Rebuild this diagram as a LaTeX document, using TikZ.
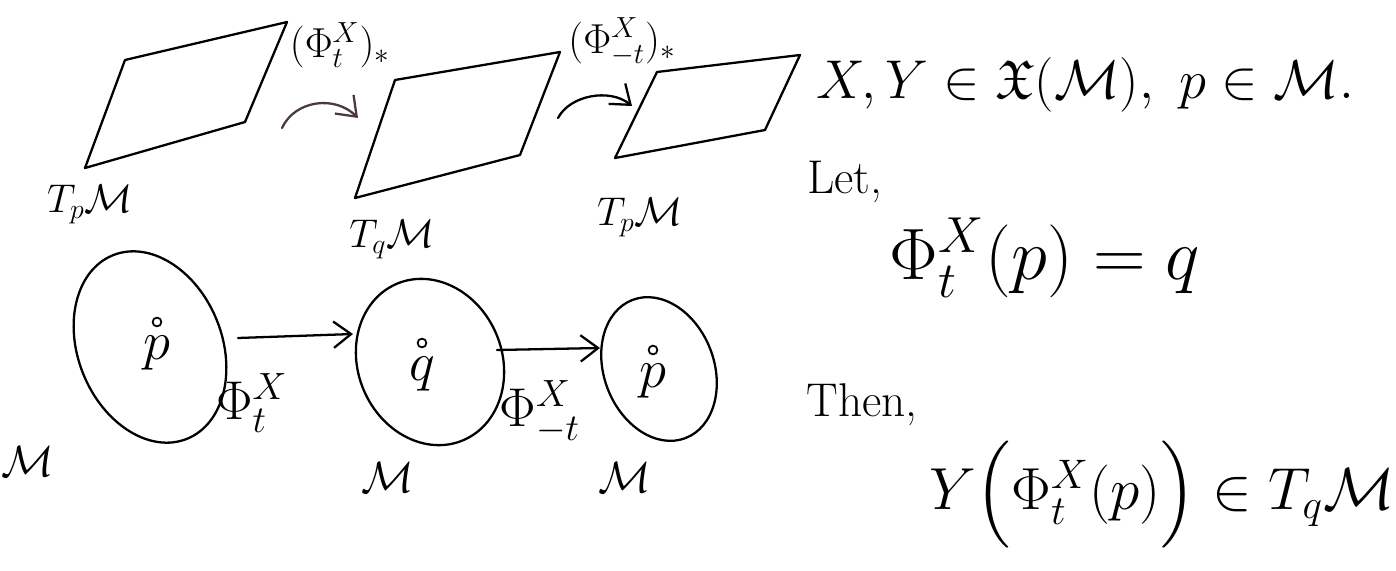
\documentclass[tikz,border=0pt]{standalone}
\usepackage{amsmath}
\usepackage{amsfonts}
\usepackage{amssymb}
\usetikzlibrary{arrows.meta,shapes.geometric,positioning}

\definecolor{pushcol}{RGB}{75,58,58}

\begin{document}
\begin{tikzpicture}[x=0.02cm,y=-0.02cm,
        line width=1.3pt, line cap=round, line join=round,
        >={Straight Barb[length=10pt,width=15pt]},
        manifold/.style={draw,ellipse,inner sep=0pt},
        lbl/.style={font=\huge,inner sep=0pt},
        ptdot/.style={circle,draw,fill=white,inner sep=0pt,minimum size=5pt,line width=1pt}]
    \useasboundingbox (0,0) rectangle (1396,571);
    % tangent spaces
    \foreach \ax/\ay/\bx/\by/\cx/\cy/\ex/\ey in {125/60/287/22/245/122/85/168, 395/80/560/52/520/155/355/198, 657/72/800/55/765/130/615/158}
        \draw (\ax,\ay) -- (\bx,\by) -- (\cx,\cy) -- (\ex,\ey) -- cycle;
    \node[lbl,scale=1.1] (TpM) at (90,205) {$T_p\mathcal{M}$};
    \node[lbl,scale=1.1] (TqM) at (392,240) {$T_q\mathcal{M}$};
    \node[lbl,scale=1.1] (TpMb) at (640,218) {$T_p\mathcal{M}$};
    \node[lbl,scale=1.15] (push) at (340,45) {$(\Phi^X_t)_*$};
    \node[lbl,scale=1.15] (pushb) at (622,42) {$(\Phi^X_{-t})_*$};
    \coordinate (c1s) at (282,128);
    \coordinate (c1e) at (358,118);
    \coordinate (c2s) at (558,118);
    \coordinate (c2e) at (632,106);
    \draw[->,pushcol] (c1s) .. controls (295,100) and (335,95) .. (c1e);
    \draw[->] (c2s) .. controls (570,95) and (610,88) .. (c2e);
    % manifolds
    \node[manifold,minimum width=2.88cm,minimum height=3.96cm,rotate=22] (M1) at (150,347) {};
    \node[manifold,minimum width=2.88cm,minimum height=3.4cm,rotate=23] (M2) at (430,362) {};
    \node[manifold,minimum width=2.2cm,minimum height=2.96cm,rotate=21] (M3) at (659,369) {};
    \node[ptdot] (dp) at (157,322) {};
    \node[ptdot] (dq) at (422,343) {};
    \node[ptdot] (dpb) at (653,350) {};
    \node[lbl,scale=1.5,below=4pt of dp] (p) {$p$};
    \node[lbl,scale=1.5,below=4pt of dq] (q) {$q$};
    \node[lbl,scale=1.5,below=4pt of dpb] (pb) {$p$};
    \node[lbl,scale=1.2] (Ma) at (28,462) {$\mathcal{M}$};
    \node[lbl,scale=1.2] (Mb) at (388,478) {$\mathcal{M}$};
    \node[lbl,scale=1.2] (Mc) at (625,478) {$\mathcal{M}$};
    \coordinate (a1s) at (238,338);
    \coordinate (a1e) at (353,334);
    \coordinate (a2s) at (497,350);
    \coordinate (a2e) at (600,348);
    \draw[->] (a1s) -- (a1e);
    \draw[->] (a2s) -- (a2e);
    \node[lbl,scale=1.5] (flow) at (252,403) {$\Phi^X_t$};
    \node[lbl,scale=1.5] (flowb) at (540,412) {$\Phi^X_{-t}$};
    % text
    \node[lbl,scale=1.5] (given) at (1085,85) {$X, Y \in \mathfrak{X}(\mathcal{M}),\ p\in\mathcal{M}.$};
    \node[lbl,scale=1.3] (let) at (845,182) {Let,};
    \node[lbl,scale=2.0] (eq) at (1045,258) {$\Phi^X_t(p) = q$};
    \node[lbl,scale=1.3] (then) at (862,405) {Then,};
    \node[lbl,scale=1.63] (res) at (1162,495) {$Y\Bigl(\Phi^X_t(p)\Bigr) \in T_q\mathcal{M}$};
\end{tikzpicture}
\end{document}
